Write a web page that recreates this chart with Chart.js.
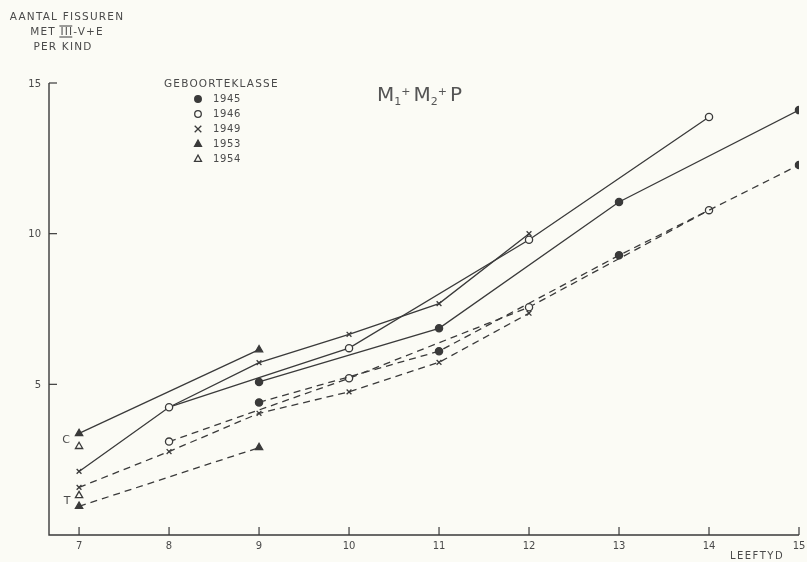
<!DOCTYPE html>
<html>
<head>
<meta charset="utf-8">
<script src="https://cdn.jsdelivr.net/npm/chart.js@4"></script>
<style>
  html, body { margin: 0; padding: 0; background: #fbfbf5; }
  canvas { display: block; }
</style>
</head>
<body>
<canvas id="fissuren" width="807" height="562"></canvas>
<script>
// leeftijd (jaren) per geboorteklasse, C = doorgetrokken, T = gestreept
var ages1945 = [9, 11, 13, 15];
var c1945 = [5.08, 6.86, 11.05, 14.1];
var t1945 = [4.4, 6.1, 9.28, 12.28];

var ages1946 = [8, 10, 12, 14];
var c1946 = [4.24, 6.2, 9.8, 13.87];
var t1946 = [3.1, 5.2, 7.56, 10.78];

var ages1949 = [7, 8, 9, 10, 11, 12];
var c1949 = [2.11, 4.24, 5.72, 6.66, 7.68, 10.0];
var t1949 = [1.58, 2.77, 4.04, 4.75, 5.73, 7.36];

var ages1953 = [7, 9];
var c1953 = [3.37, 6.15];
var t1953 = [0.95, 2.9];

var ages1954 = [7];
var c1954 = [2.94];
var t1954 = [1.31];

var xTicks = [7, 8, 9, 10, 11, 12, 13, 14, 15];
var yTicks = [5, 10, 15];
var legendYears = ["1945", "1946", "1949", "1953", "1954"];

var ink = "#3a3a3a";
var paper = "#fbfbf5";
var textCol = "#4a4a4a";

function pts(ages, vals) {
    return ages.map(function (a, i) { return { x: a, y: vals[i] }; });
}

// marker style per geboorteklasse
var markers = {
    "1945": { pointStyle: "circle", pointRadius: 3.6, pointBackgroundColor: ink },
    "1946": { pointStyle: "circle", pointRadius: 3.6, pointBackgroundColor: paper },
    "1949": { pointStyle: "crossRot", pointRadius: 3.4, pointBackgroundColor: ink },
    "1953": { pointStyle: "triangle", pointRadius: 4.2, pointBackgroundColor: ink },
    "1954": { pointStyle: "triangle", pointRadius: 4.2, pointBackgroundColor: paper },
};

function serie(year, ages, vals, dashed) {
    var m = markers[year];
    return {
        label: year + (dashed ? " T" : " C"),
        data: pts(ages, vals),
        borderColor: ink,
        borderWidth: 1.3,
        borderDash: dashed ? [7, 5] : [],
        tension: 0,
        fill: false,
        pointStyle: m.pointStyle,
        pointRadius: m.pointRadius,
        pointHoverRadius: m.pointRadius,
        pointBorderColor: ink,
        pointBorderWidth: 1.3,
        pointBackgroundColor: m.pointBackgroundColor,
    };
}

function drawMarker(ctx, style, filled, x, y, r) {
    ctx.save();
    ctx.strokeStyle = ink;
    ctx.fillStyle = filled ? ink : paper;
    ctx.lineWidth = 1.3;
    ctx.beginPath();
    if (style === "circle") {
        ctx.arc(x, y, r, 0, Math.PI * 2);
        ctx.fill();
        ctx.stroke();
    } else if (style === "crossRot") {
        ctx.moveTo(x - r, y - r); ctx.lineTo(x + r, y + r);
        ctx.moveTo(x + r, y - r); ctx.lineTo(x - r, y + r);
        ctx.stroke();
    } else {
        ctx.moveTo(x, y - r);
        ctx.lineTo(x + r * 0.87, y + r * 0.6);
        ctx.lineTo(x - r * 0.87, y + r * 0.6);
        ctx.closePath();
        ctx.fill();
        ctx.stroke();
    }
    ctx.restore();
}

var decor = {
    id: "decor",
    beforeDraw: function (chart) {
        var ctx = chart.ctx;
        ctx.save();
        ctx.fillStyle = paper;
        ctx.fillRect(0, 0, chart.width, chart.height);
        ctx.restore();
    },
    beforeDatasetsDraw: function (chart) {
        var ctx = chart.ctx;
        var xs = chart.scales.x, ys = chart.scales.y;
        var a = chart.chartArea;
        ctx.save();
        ctx.strokeStyle = ink;
        ctx.lineWidth = 1.4;
        // assen
        ctx.beginPath();
        ctx.moveTo(a.left, ys.getPixelForValue(15));
        ctx.lineTo(a.left, a.bottom);
        ctx.lineTo(a.right, a.bottom);
        ctx.stroke();
        ctx.lineWidth = 1.2;
        ctx.font = "10px 'DejaVu Sans'";
        ctx.fillStyle = textCol;
        ctx.textBaseline = "middle";
        ctx.textAlign = "right";
        yTicks.forEach(function (v) {
            var py = ys.getPixelForValue(v);
            ctx.beginPath();
            ctx.moveTo(a.left, py);
            ctx.lineTo(a.left + 8, py);
            ctx.stroke();
            ctx.fillText(String(v), a.left - 8, py + 1);
        });
        ctx.textAlign = "center";
        ctx.textBaseline = "top";
        xTicks.forEach(function (v) {
            var px = xs.getPixelForValue(v);
            ctx.beginPath();
            ctx.moveTo(px, a.bottom);
            ctx.lineTo(px, a.bottom - 8);
            ctx.stroke();
            ctx.fillText(String(v), px, a.bottom + 6);
        });
        ctx.letterSpacing = "1.5px";
        ctx.font = "10px 'DejaVu Sans'";
        ctx.fillText("LEEFTYD", 757, 551);

        // as-titel
        ctx.font = "10.5px 'DejaVu Sans'";
        ctx.letterSpacing = "1.2px";
        ctx.textBaseline = "middle";
        ctx.fillText("AANTAL FISSUREN", 67, 17);
        ctx.fillText("MET III-V+E", 67, 32);
        ctx.fillText("PER KIND", 63, 47);
        // streepjes boven/onder III
        var w3 = ctx.measureText("MET ").width;
        var wAll = ctx.measureText("MET III-V+E").width;
        var wIII = ctx.measureText("III").width;
        var x3 = 67 - wAll / 2 + w3;
        ctx.lineWidth = 1;
        ctx.beginPath();
        ctx.moveTo(x3 - 1, 26); ctx.lineTo(x3 + wIII - 1, 26);
        ctx.moveTo(x3 - 1, 37); ctx.lineTo(x3 + wIII - 1, 37);
        ctx.stroke();

        // C en T labels
        ctx.letterSpacing = "0px";
        ctx.font = "11px 'DejaVu Sans'";
        ctx.fillText("C", 66, 440);
        ctx.fillText("T", 67, 501);

        // legenda
        ctx.font = "10.5px 'DejaVu Sans'";
        ctx.textAlign = "left";
        ctx.letterSpacing = "1.2px";
        ctx.fillText("GEBOORTEKLASSE", 164, 84);
        ctx.letterSpacing = "0.6px";
        ctx.font = "10px 'DejaVu Sans'";
        legendYears.forEach(function (yr, i) {
            var ly = 99 + i * 15;
            var m = markers[yr];
            var filled = m.pointBackgroundColor === ink;
            var r = m.pointStyle === "triangle" ? 4 : 3.3;
            drawMarker(ctx, m.pointStyle, filled, 198, ly, r);
            ctx.fillText(yr, 213, ly);
        });

        // titel M1+ M2+ P
        ctx.letterSpacing = "0px";
        ctx.fillStyle = "#555";
        ctx.textAlign = "left";
        ctx.textBaseline = "alphabetic";
        var tx = 377, base = 101;
        function part(txt, size, dy) {
            ctx.font = size + "px 'DejaVu Sans'";
            ctx.fillText(txt, tx, base + dy);
            tx += ctx.measureText(txt).width;
        }
        part("M", 20, 0);
        part("1", 11, 4);
        part("+", 11, -6);
        tx += 3;
        part("M", 20, 0);
        part("2", 11, 4);
        part("+", 11, -6);
        tx += 3;
        part("P", 20, 0);
        ctx.restore();
    },
};

var ctx = document.getElementById("fissuren").getContext("2d");
var chart = new Chart(ctx, {
    type: "line",
    data: {
        datasets: [
            serie("1945", ages1945, c1945, false),
            serie("1945", ages1945, t1945, true),
            serie("1946", ages1946, c1946, false),
            serie("1946", ages1946, t1946, true),
            serie("1949", ages1949, c1949, false),
            serie("1949", ages1949, t1949, true),
            serie("1953", ages1953, c1953, false),
            serie("1953", ages1953, t1953, true),
            serie("1954", ages1954, c1954, false),
            serie("1954", ages1954, t1954, true),
        ],
    },
    options: {
        responsive: false,
        animation: false,
        layout: {
            padding: { left: 49, right: 8, top: 83, bottom: 27 },
        },
        scales: {
            x: { type: "linear", display: false, min: 6.666, max: 15 },
            y: { type: "linear", display: false, min: 0, max: 15 },
        },
        plugins: {
            legend: { display: false },
            tooltip: { enabled: false },
        },
    },
    plugins: [decor],
});
</script>
</body>
</html>
